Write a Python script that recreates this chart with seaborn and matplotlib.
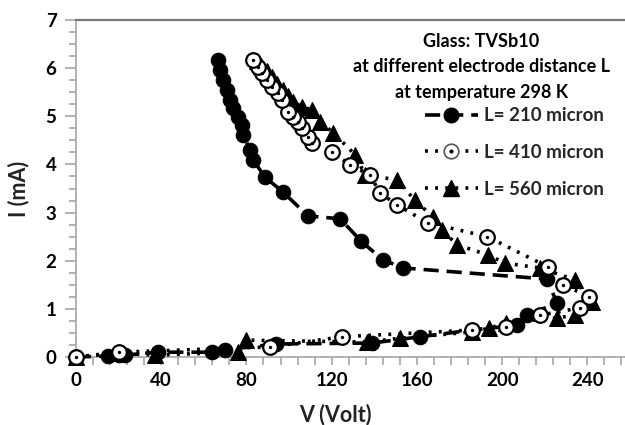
import matplotlib
matplotlib.use("Agg")
import matplotlib.pyplot as plt
from matplotlib.ticker import MultipleLocator
from matplotlib.lines import Line2D
import seaborn as sns
import pandas as pd

# ---- data ----
v_210 = [0, 15, 20, 23, 38.5, 64, 70, 94, 139, 161.5, 186, 207, 211.7, 225.8,
         221, 153.5, 144, 134, 124, 109, 97, 88.7, 83, 81.7, 78.4, 78, 76,
         73.7, 72.3, 70.9, 69, 67.6, 66.7]
i_210 = [0, 0.02, 0.04, 0.04, 0.1, 0.1, 0.15, 0.27, 0.29, 0.42, 0.56, 0.66, 0.87, 1.12,
         1.62, 1.85, 2.02, 2.4, 2.87, 2.93, 3.43, 3.74, 4.10, 4.30, 4.62, 4.82, 4.99,
         5.18, 5.34, 5.55, 5.76, 5.97, 6.17]

v_410 = [0, 20, 91, 125, 186, 202, 218, 236.6, 241, 228.6, 221.6, 193, 165, 150.7,
         142.7, 138, 128.6, 120, 110.8, 108.9, 106.1, 104.2, 101.9, 99.5, 96.7, 94.8,
         92.0, 89.7, 87.3, 85.4, 83.1]
i_410 = [0, 0.1, 0.21, 0.42, 0.56, 0.63, 0.87, 1.02, 1.25, 1.5, 1.87, 2.5, 2.79, 3.16,
         3.41, 3.78, 3.99, 4.26, 4.45, 4.57, 4.76, 4.89, 4.99, 5.09, 5.34, 5.49,
         5.61, 5.76, 5.90, 6.03, 6.17]

v_560 = [0, 19, 37, 76, 80, 136.6, 152, 186, 194, 202, 225.8, 234, 242.3, 234.3,
         217.8, 201.4, 193.4, 178.9, 171.8, 167.6, 159, 150.7, 135.7, 131, 120.7,
         114.6, 110.8, 106, 102, 99.5, 97, 94.5, 92, 89.5, 87, 85]
i_560 = [0, 0.08, 0.04, 0.1, 0.35, 0.31, 0.39, 0.52, 0.6, 0.71, 0.81, 0.87, 1.14, 1.6,
         1.85, 1.95, 2.12, 2.33, 2.64, 2.91, 3.26, 3.68, 3.78, 4.2, 4.66,
         4.89, 5.13, 5.2, 5.3, 5.42, 5.55, 5.68, 5.82, 5.95, 6.05, 6.15]

labels = ["L= 210 micron", "L= 410 micron", "L= 560 micron"]
title_lines = ["Glass: TVSb10", "at different electrode distance L", "at temperature 298 K"]
x_ticks = [0, 40, 80, 120, 160, 200, 240]
y_ticks = [0, 1, 2, 3, 4, 5, 6, 7]

sns.set_theme(style="white")
plt.rcParams["font.family"] = ["Lato", "DejaVu Sans"]
plt.rcParams["font.weight"] = "bold"

fig = plt.figure(figsize=(6.25, 4.25), dpi=100)
ax = fig.add_axes([76 / 625, 1 - 357 / 425, 549 / 625, 337 / 425])

df210 = pd.DataFrame({"V": v_210, "I": i_210})
df410 = pd.DataFrame({"V": v_410, "I": i_410})
df560 = pd.DataFrame({"V": v_560, "I": i_560})

ms = 10.5
dash = (0, (4.2, 2.2))
dot = (0, (0.8, 2.0))
sns.lineplot(data=df210, x="V", y="I", sort=False, estimator=None, ax=ax,
             color="black", linewidth=2.6, linestyle=dash,
             marker="o", markersize=ms, markerfacecolor="black",
             markeredgecolor="black", clip_on=False, zorder=3)
sns.lineplot(data=df560, x="V", y="I", sort=False, estimator=None, ax=ax,
             color="black", linewidth=2.6, linestyle=dot,
             marker="^", markersize=ms + 0.5, markerfacecolor="black",
             markeredgecolor="black", clip_on=False, zorder=3)
sns.lineplot(data=df410, x="V", y="I", sort=False, estimator=None, ax=ax,
             color="black", linewidth=2.6, linestyle=dot,
             marker="o", markersize=ms, markerfacecolor="white",
             markeredgecolor="black", markeredgewidth=1.6, clip_on=False, zorder=4)
sns.scatterplot(data=df410, x="V", y="I", ax=ax, color="black", s=6,
                linewidth=0, clip_on=False, zorder=5)

ax.set_xlim(0, 257.7)
ax.set_ylim(0, 7)
ax.set_xticks(x_ticks)
ax.set_yticks(y_ticks)
ax.xaxis.set_minor_locator(MultipleLocator(8))
ax.yaxis.set_minor_locator(MultipleLocator(0.25))

grey = "#a6a6a6"
for s in ["left", "bottom"]:
    ax.spines[s].set_color(grey)
    ax.spines[s].set_linewidth(1.2)
ax.spines["top"].set_color("#777777")
ax.spines["top"].set_linewidth(1.6)
ax.spines["right"].set_visible(False)

ax.tick_params(axis="both", which="both", direction="out", color=grey, width=1.2)
ax.tick_params(axis="y", which="major", length=8, pad=6, labelsize=13.5)
ax.tick_params(axis="y", which="minor", length=5)
ax.tick_params(axis="x", which="major", length=6, pad=5, labelsize=13.5)
ax.tick_params(axis="x", which="minor", length=6)
ax.tick_params(left=True, bottom=True, which="both")
ax.set_xticklabels([str(t) for t in x_ticks], fontweight="bold", color="black")
ax.set_yticklabels([str(t) for t in y_ticks], fontweight="bold", color="black")

ax.set_xlabel("V (Volt)", fontsize=15.5, fontweight="bold", color="#222222")
ax.set_ylabel("I (mA)", fontsize=15.5, fontweight="bold", color="#222222")
ax.xaxis.set_label_coords(0.472, -0.137)
ax.yaxis.set_label_coords(-0.085, 0.5)

for line_txt, yy in zip(title_lines, [0.935, 0.862, 0.784]):
    ax.text(0.738, yy, line_txt, transform=ax.transAxes, ha="center", va="center",
            fontsize=13, fontweight="bold", color="black")

h210 = Line2D([], [], color="black", linewidth=2.6, linestyle=dash,
              marker="o", markersize=ms, markerfacecolor="black")
h410 = Line2D([], [], color="black", linewidth=2.6, linestyle=dot,
              marker="o", markersize=ms, markerfacecolor="white",
              markeredgecolor="#555555", markeredgewidth=1.2)
h410d = Line2D([], [], color="black", linestyle="none", marker="o", markersize=2)
h560 = Line2D([], [], color="black", linewidth=2.6, linestyle=dot,
              marker="^", markersize=ms + 0.5, markerfacecolor="black")
leg = ax.legend([h210, (h410, h410d), h560], labels, loc="upper left",
                bbox_to_anchor=(0.636, 0.741), frameon=False, fontsize=13.5,
                handlelength=2.8, handletextpad=0.35, labelspacing=1.05,
                borderpad=0, borderaxespad=0)
for t in leg.get_texts():
    t.set_fontweight("bold")

fig.savefig("out.png", dpi=100, facecolor="white")
